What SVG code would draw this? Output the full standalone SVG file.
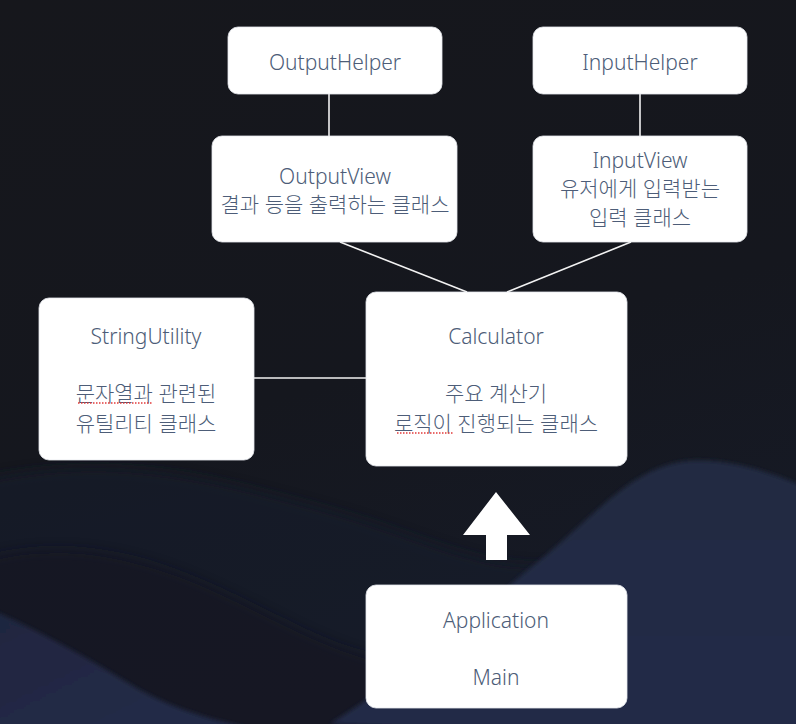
<svg xmlns="http://www.w3.org/2000/svg" width="796" height="724" viewBox="0 0 796 724">
<defs>
<style>
.box{fill:#ffffff;stroke:#e6e8ee;stroke-width:0.8}
.t{font-family:"Noto Sans","Noto Sans CJK KR",sans-serif;font-size:21px;font-weight:300;fill:#4d5d78;text-anchor:middle}
.ln{stroke:#f2f2f2;stroke-width:1.6;fill:none}
.sq{stroke:#e23a3a;stroke-width:1.3;stroke-dasharray:1.5 1.5;fill:none}
</style>
<linearGradient id="bgTop" x1="0" y1="0" x2="0.3" y2="1">
<stop offset="0" stop-color="#16171c"/>
<stop offset="0.6" stop-color="#15171e"/>
<stop offset="1" stop-color="#161a26"/>
</linearGradient>
<linearGradient id="waveR" x1="0" y1="0" x2="0" y2="1">
<stop offset="0" stop-color="#212942"/>
<stop offset="1" stop-color="#242c48"/>
</linearGradient>
<linearGradient id="waveL" x1="0" y1="0" x2="1" y2="1">
<stop offset="0" stop-color="#1f2640"/>
<stop offset="1" stop-color="#242c49"/>
</linearGradient>
<filter id="soft" x="-10%" y="-10%" width="120%" height="120%"><feGaussianBlur stdDeviation="6"/></filter>
<filter id="soft2" x="-10%" y="-10%" width="120%" height="120%"><feGaussianBlur stdDeviation="2"/></filter>
</defs>
<rect width="796" height="724" fill="url(#bgTop)"/>
<!-- background waves -->
<path d="M-20,480 C120,450 220,480 330,510 C420,535 470,565 540,565 C620,565 700,525 816,525 L816,744 L-20,744 Z" fill="#181c2a" opacity="0.7" filter="url(#soft)"/>
<path d="M-20,560 C90,530 180,570 260,610 C330,645 380,670 450,660 C520,650 560,610 600,570 L816,570 L816,744 L-20,744 Z" fill="#131622" opacity="0.7" filter="url(#soft)"/>
<path d="M816,492 C770,470 720,456 680,462 C630,470 590,520 540,560 C490,600 430,660 330,724 L816,744 Z" fill="url(#waveR)" filter="url(#soft2)"/>
<path d="M-20,605 C40,630 90,660 140,690 C180,712 220,722 260,730 L-20,744 Z" fill="url(#waveL)" filter="url(#soft2)"/>

<g id="connectors">
<line class="ln" x1="329" y1="94" x2="329" y2="136"/>
<line class="ln" x1="640" y1="94" x2="640" y2="136"/>
<line class="ln" x1="340" y1="242" x2="467" y2="292"/>
<line class="ln" x1="631" y1="242" x2="507" y2="292"/>
<line class="ln" x1="254" y1="378" x2="366" y2="378"/>
<path d="M496,492 L530,535 L507,535 L507,560 L486,560 L486,535 L463,535 Z" fill="#ffffff"/>
</g>

<g id="OutputHelper">
<rect class="box" x="228" y="27" width="214" height="67" rx="10"/>
<text class="t" x="335" y="70">OutputHelper</text>
</g>
<g id="InputHelper">
<rect class="box" x="533" y="27" width="214" height="67" rx="10"/>
<text class="t" x="640" y="70">InputHelper</text>
</g>
<g id="OutputView">
<rect class="box" x="212" y="136" width="245" height="106" rx="10"/>
<text class="t" x="335" y="184">OutputView</text>
<text class="t" x="335" y="212">결과 등을 출력하는 클래스</text>
</g>
<g id="InputView">
<rect class="box" x="533" y="136" width="214" height="106" rx="10"/>
<text class="t" x="640" y="168">InputView</text>
<text class="t" x="640" y="196">유저에게 입력받는</text>
<text class="t" x="640" y="225">입력 클래스</text>
</g>
<g id="StringUtility">
<rect class="box" x="39" y="298" width="215" height="162" rx="10"/>
<text class="t" x="146" y="344">StringUtility</text>
<text class="t" x="146" y="401">문자열과 관련된</text>
<text class="t" x="146" y="431">유틸리티 클래스</text>
<path class="sq" d="M78,403 L153,403"/>
</g>
<g id="Calculator">
<rect class="box" x="366" y="292" width="261" height="174" rx="10"/>
<text class="t" x="496" y="344">Calculator</text>
<text class="t" x="496" y="401">주요 계산기</text>
<text class="t" x="496" y="431">로직이 진행되는 클래스</text>
<path class="sq" d="M397,433 L453,433"/>
</g>
<g id="Application">
<rect class="box" x="366" y="585" width="261" height="123" rx="10"/>
<text class="t" x="496" y="628">Application</text>
<text class="t" x="496" y="685">Main</text>
</g>
</svg>
